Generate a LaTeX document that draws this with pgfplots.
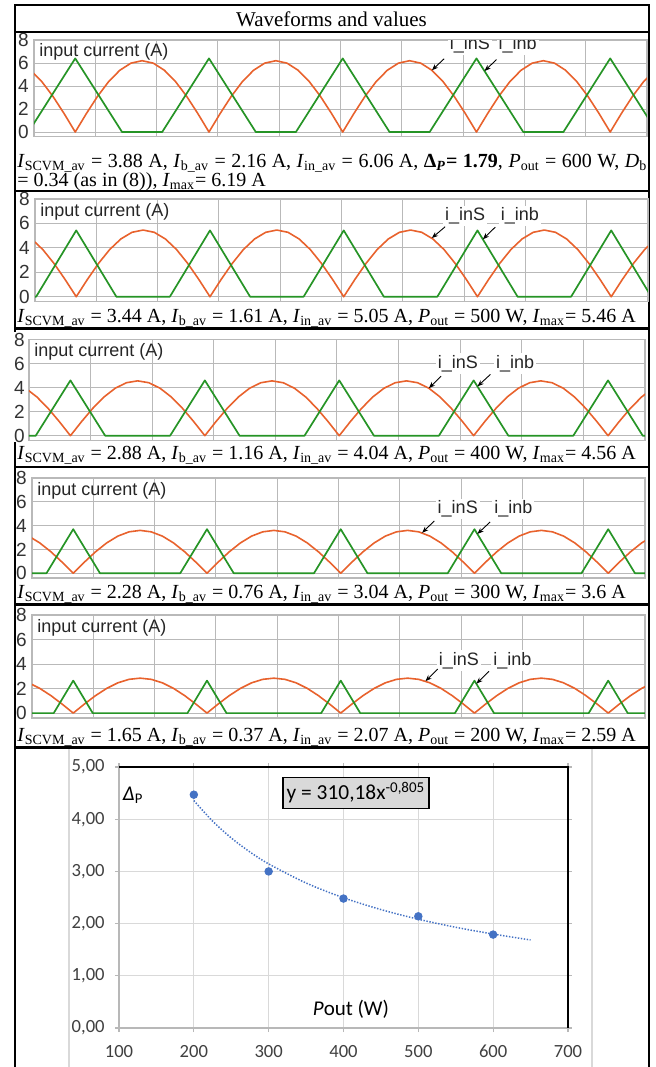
\documentclass[border=0pt]{standalone}
\usepackage{pgfplots}
\pgfplotsset{compat=1.18}
\usepackage{pgfplotstable}
\usepackage{fontspec}
\usetikzlibrary{arrows.meta}
\setmainfont{Liberation Serif}
\newfontfamily\arial{Liberation Sans}
\newfontfamily\calibri{Carlito}
\definecolor{wor}{RGB}{232,98,45}
\definecolor{wgr}{RGB}{38,148,38}
\definecolor{xblue}{RGB}{68,114,196}
\definecolor{gridg}{RGB}{185,185,185}
\newcommand{\s}[1]{\textsubscript{#1}}

% rectified-sine input current of the SCVM stage, one column per panel (600,500,400,300,200 W)
\pgfplotstableread{
x o1 o2 o3 o4 o5
-4 5.369 4.728 3.949 3.118 2.468
-3 4.384 3.861 3.224 2.546 2.015
-2 3.100 2.730 2.280 1.800 1.425
-1 1.605 1.413 1.180 0.932 0.738
0 0 0 0 0 0
1 1.605 1.413 1.180 0.932 0.738
2 3.100 2.730 2.280 1.800 1.425
3 4.384 3.861 3.224 2.546 2.015
4 5.369 4.728 3.949 3.118 2.468
5 5.989 5.274 4.405 3.477 2.753
6 6.200 5.460 4.560 3.600 2.850
7 5.989 5.274 4.405 3.477 2.753
8 5.369 4.728 3.949 3.118 2.468
9 4.384 3.861 3.224 2.546 2.015
10 3.100 2.730 2.280 1.800 1.425
11 1.605 1.413 1.180 0.932 0.738
12 0 0 0 0 0
13 1.605 1.413 1.180 0.932 0.738
14 3.100 2.730 2.280 1.800 1.425
15 4.384 3.861 3.224 2.546 2.015
16 5.369 4.728 3.949 3.118 2.468
17 5.989 5.274 4.405 3.477 2.753
18 6.200 5.460 4.560 3.600 2.850
19 5.989 5.274 4.405 3.477 2.753
20 5.369 4.728 3.949 3.118 2.468
21 4.384 3.861 3.224 2.546 2.015
22 3.100 2.730 2.280 1.800 1.425
23 1.605 1.413 1.180 0.932 0.738
24 0 0 0 0 0
25 1.605 1.413 1.180 0.932 0.738
26 3.100 2.730 2.280 1.800 1.425
27 4.384 3.861 3.224 2.546 2.015
28 5.369 4.728 3.949 3.118 2.468
29 5.989 5.274 4.405 3.477 2.753
30 6.200 5.460 4.560 3.600 2.850
31 5.989 5.274 4.405 3.477 2.753
32 5.369 4.728 3.949 3.118 2.468
33 4.384 3.861 3.224 2.546 2.015
34 3.100 2.730 2.280 1.800 1.425
35 1.605 1.413 1.180 0.932 0.738
36 0 0 0 0 0
37 1.605 1.413 1.180 0.932 0.738
38 3.100 2.730 2.280 1.800 1.425
39 4.384 3.861 3.224 2.546 2.015
40 5.369 4.728 3.949 3.118 2.468
41 5.989 5.274 4.405 3.477 2.753
42 6.200 5.460 4.560 3.600 2.850
43 5.989 5.274 4.405 3.477 2.753
44 5.369 4.728 3.949 3.118 2.468
45 4.384 3.861 3.224 2.546 2.015
46 3.100 2.730 2.280 1.800 1.425
47 1.605 1.413 1.180 0.932 0.738
48 0 0 0 0 0
49 1.605 1.413 1.180 0.932 0.738
50 3.100 2.730 2.280 1.800 1.425
51 4.384 3.861 3.224 2.546 2.015
52 5.369 4.728 3.949 3.118 2.468
}\orange

\tikzset{
  orl/.style={wor, line width=0.8pt, line join=round},
  grl/.style={wgr, line width=0.85pt, line join=round},
  lab/.style={font=\arial\fontsize{9}{9}\selectfont, text=black!85},
  tag/.style={font=\arial\fontsize{9}{9}\selectfont, text=black!85, fill=white, inner sep=1pt},
  arr/.style={-{Stealth[length=3.2pt,width=2.4pt]}, line width=0.45pt, black},
}
\pgfplotsset{
  wave/.style={
    scale only axis, anchor=south west,
    xmin=-3.7, xmax=51.3, ymin=-0.4, ymax=8,
    xtick={1.8,7.3,12.8,18.3,23.8,29.3,34.8,40.3,45.8},
    xticklabels={},
    ytick={0,2,4,6,8},
    grid=major,
    major grid style={gridg, line width=0.5pt},
    axis line style={gridg, line width=0.6pt},
    major tick length=0pt,
    yticklabel style={font=\arial\fontsize{9.5}{9.5}\selectfont, text=black!80, inner sep=0pt, xshift=#1},
    /pgf/number format/assume math mode=true,
  },
  wave/.default=-2.5pt,
}

\begin{document}
\begin{tikzpicture}[x=0.5pt,y=-0.5pt]
\useasboundingbox (0,0) rectangle (656,1067);

% ---------------- table frame (the 400 W waveform covers the left rule, as in the source)
\draw[line width=1pt] (14.5,332) -- (14.5,5) -- (648.5,5) -- (648.5,1067);
\draw[line width=1pt] (14.5,442) -- (14.5,1067);
\foreach \yy in {32,191,328.5,467,604.5,747.5} {\draw[line width=1.2pt] (14.5,\yy) -- (648.5,\yy);}

% ---------------- panel 1: 600 W
\begin{axis}[wave, at={(17pt,-68.3pt)}, width=306.5pt, height=48.3pt]
\addplot[orl] table[x=x,y=o1] {\orange};
\addplot[grl] coordinates {(-7.8,0)(-4.2,0)(0,6.4)(4.2,0)(7.8,0)(12,6.4)(16.2,0)(19.8,0)(24,6.4)(28.2,0)(31.8,0)(36,6.4)(40.2,0)(43.8,0)(48,6.4)(52.2,0)(55.8,0)};
\node[lab, anchor=west, inner sep=0pt, xshift=2.5pt] at (rel axis cs:0,0.875) {input current (A)};
\node[tag] at (axis cs:35.4,7.55) {i\_inS};
\node[tag] at (axis cs:39.7,7.55) {i\_inb};
\draw[arr] (axis cs:33.1,6.37) -- (axis cs:32.0,5.37);
\draw[arr] (axis cs:37.8,6.3) -- (axis cs:36.72,5.3);
\end{axis}

% ---------------- panel 2: 500 W
\begin{axis}[wave, at={(17.5pt,-150.8pt)}, width=306.5pt, height=51.3pt]
\addplot[orl] table[x=x,y=o2] {\orange};
\addplot[grl] coordinates {(-8.4,0)(-3.6,0)(0,5.43)(3.6,0)(8.4,0)(12,5.43)(15.6,0)(20.4,0)(24,5.43)(27.6,0)(32.4,0)(36,5.43)(39.6,0)(44.4,0)(48,5.43)(51.6,0)(56.4,0)};
\node[lab, anchor=west, inner sep=0pt, xshift=2.5pt] at (rel axis cs:0,0.875) {input current (A)};
\node[tag] at (axis cs:34.9,6.6) {i\_inS};
\node[tag] at (axis cs:39.8,6.6) {i\_inb};
\draw[arr] (axis cs:33.1,5.73) -- (axis cs:31.9,4.8);
\draw[arr] (axis cs:37.6,5.7) -- (axis cs:36.48,4.7);
\end{axis}

% ---------------- panel 3: 400 W
\begin{axis}[wave=-2pt, at={(14.5pt,-220.25pt)}, width=308pt, height=50.5pt]
\addplot[orl] table[x=x,y=o3] {\orange};
\addplot[grl] coordinates {(-8.9,0)(-3.1,0)(0,4.6)(3.1,0)(8.9,0)(12,4.6)(15.1,0)(20.9,0)(24,4.6)(27.1,0)(32.9,0)(36,4.6)(39.1,0)(44.9,0)(48,4.6)(51.1,0)(56.9,0)};
\node[lab, anchor=west, inner sep=0pt, xshift=2.5pt] at (rel axis cs:0,0.875) {input current (A)};
\node[tag] at (axis cs:34.6,6.0) {i\_inS};
\node[tag] at (axis cs:39.7,6.0) {i\_inb};
\draw[arr] (axis cs:33.1,4.95) -- (axis cs:32.0,3.95);
\draw[arr] (axis cs:37.5,5.1) -- (axis cs:36.34,4.1);
\end{axis}

% ---------------- panel 4: 300 W
\begin{axis}[wave, at={(16pt,-289pt)}, width=306.5pt, height=50pt]
\addplot[orl] table[x=x,y=o4] {\orange};
\addplot[grl] coordinates {(-9.6,0)(-2.4,0)(0,3.7)(2.4,0)(9.6,0)(12,3.7)(14.4,0)(21.6,0)(24,3.7)(26.4,0)(33.6,0)(36,3.7)(38.4,0)(45.6,0)(48,3.7)(50.4,0)(57.6,0)};
\node[lab, anchor=west, inner sep=0pt, xshift=2.5pt] at (rel axis cs:0,0.875) {input current (A)};
\node[tag] at (axis cs:34.5,5.4) {i\_inS};
\node[tag] at (axis cs:39.5,5.4) {i\_inb};
\draw[arr] (axis cs:32.4,4.4) -- (axis cs:31.3,3.39);
\draw[arr] (axis cs:37.4,4.3) -- (axis cs:36.26,3.3);
\end{axis}

% ---------------- panel 5: 200 W
\begin{axis}[wave, at={(16pt,-359pt)}, width=306.5pt, height=51.5pt]
\addplot[orl] table[x=x,y=o5] {\orange};
\addplot[grl] coordinates {(-10.25,0)(-1.75,0)(0,2.65)(1.75,0)(10.25,0)(12,2.65)(13.75,0)(22.25,0)(24,2.65)(25.75,0)(34.25,0)(36,2.65)(37.75,0)(46.25,0)(48,2.65)(49.75,0)(58.25,0)};
\node[lab, anchor=west, inner sep=0pt, xshift=2.5pt] at (rel axis cs:0,0.875) {input current (A)};
\node[tag] at (axis cs:34.6,4.3) {i\_inS};
\node[tag] at (axis cs:39.4,4.3) {i\_inb};
\draw[arr] (axis cs:32.7,3.6) -- (axis cs:31.6,2.6);
\draw[arr] (axis cs:37.3,3.4) -- (axis cs:36.17,2.4);
\end{axis}

% ---------------- Excel chart: Delta_P vs Pout
\draw[black!15, line width=0.6pt] (69,749) -- (69,1067);
\draw[black!15, line width=0.6pt] (592,749) -- (592,1067);
\begin{axis}[at={(59.5pt,-514pt)}, anchor=south west, scale only axis,
  width=224.5pt, height=130.5pt,
  xmin=100, xmax=700, ymin=0, ymax=5,
  xtick={100,200,300,400,500,600,700},
  ytick={0,1,2,3,4,5},
  yticklabels={{0,00},{1,00},{2,00},{3,00},{4,00},{5,00}},
  grid=major, major grid style={black!15, line width=0.6pt},
  axis line style={black!28, line width=0.6pt},
  tick align=outside, major tick length=2pt,
  tick style={black!28, line width=0.6pt},
  ticklabel style={font=\calibri\fontsize{9.3}{9.3}\selectfont, text=black!75},
  yticklabel style={inner sep=0pt, xshift=-5pt},
  xticklabel style={inner sep=0pt, yshift=-6.5pt},
  /pgf/number format/assume math mode=true,
  clip=false]
\draw[black, line width=0.7pt] (axis cs:100,5) -- (axis cs:700,5) -- (axis cs:700,0);
\addplot[xblue, line width=0.75pt, dash pattern=on 0.7pt off 0.8pt, smooth] coordinates {(200,4.358)(225,3.964)(250,3.641)(275,3.372)(300,3.144)(350,2.778)(400,2.495)(450,2.269)(500,2.084)(550,1.930)(600,1.800)(650,1.687)};
\addplot[only marks, mark=*, mark size=1.9pt, xblue] coordinates {(200,4.47)(300,3.00)(400,2.48)(500,2.14)(600,1.79)};
\node[font=\calibri\fontsize{10.5}{10.5}\selectfont] at (axis cs:119,4.46) {\textit{Δ}\textsubscript{P}};
\node[font=\calibri\fontsize{10.5}{10.5}\selectfont] at (axis cs:410,0.36) {\textit{P}out (W)};
\node[fill=black!15, draw=black, line width=0.6pt, minimum width=73pt, minimum height=15.5pt, inner sep=0pt, font=\calibri\fontsize{10.7}{10.7}\selectfont] at (axis cs:416.7,4.51) {y = 310,18x\textsuperscript{-0,805}};
\end{axis}

% ---------------- texts
\node[anchor=base, inner sep=0pt, font=\fontsize{10.5}{12}\selectfont] at (331.5,26.5) {Waveforms and values};
\begingroup
\fontsize{10}{12}\selectfont
\node[anchor=base west, inner sep=0pt] at (17,167) {\makebox[315pt][s]{\textit{I}\s{SCVM\_av} = 3.88 A, \textit{I}\s{b\_av} = 2.16 A, \textit{I}\s{in\_av} = 6.06 A, {\bfseries Δ\s{\textit{P}}= 1.79}, \textit{P}\s{out} = 600 W, \textit{D}\s{b}}};
\node[anchor=base west, inner sep=0pt] at (17,186) {= 0.34 (as in (8)), \textit{I}\s{max}= 6.19 A};
\node[anchor=base west, inner sep=0pt] at (17,322) {\textit{I}\s{SCVM\_av} = 3.44 A, \textit{I}\s{b\_av} = 1.61 A, \textit{I}\s{in\_av} = 5.05 A, \textit{P}\s{out} = 500 W, \textit{I}\s{max}= 5.46 A};
\node[anchor=base west, inner sep=0pt] at (17,459) {\textit{I}\s{SCVM\_av} = 2.88 A, \textit{I}\s{b\_av} = 1.16 A, \textit{I}\s{in\_av} = 4.04 A, \textit{P}\s{out} = 400 W, \textit{I}\s{max}= 4.56 A};
\node[anchor=base west, inner sep=0pt] at (17,598) {\textit{I}\s{SCVM\_av} = 2.28 A, \textit{I}\s{b\_av} = 0.76 A, \textit{I}\s{in\_av} = 3.04 A, \textit{P}\s{out} = 300 W, \textit{I}\s{max}= 3.6 A};
\node[anchor=base west, inner sep=0pt] at (17,741) {\textit{I}\s{SCVM\_av} = 1.65 A, \textit{I}\s{b\_av} = 0.37 A, \textit{I}\s{in\_av} = 2.07 A, \textit{P}\s{out} = 200 W, \textit{I}\s{max}= 2.59 A};
\endgroup
\end{tikzpicture}
\end{document}
